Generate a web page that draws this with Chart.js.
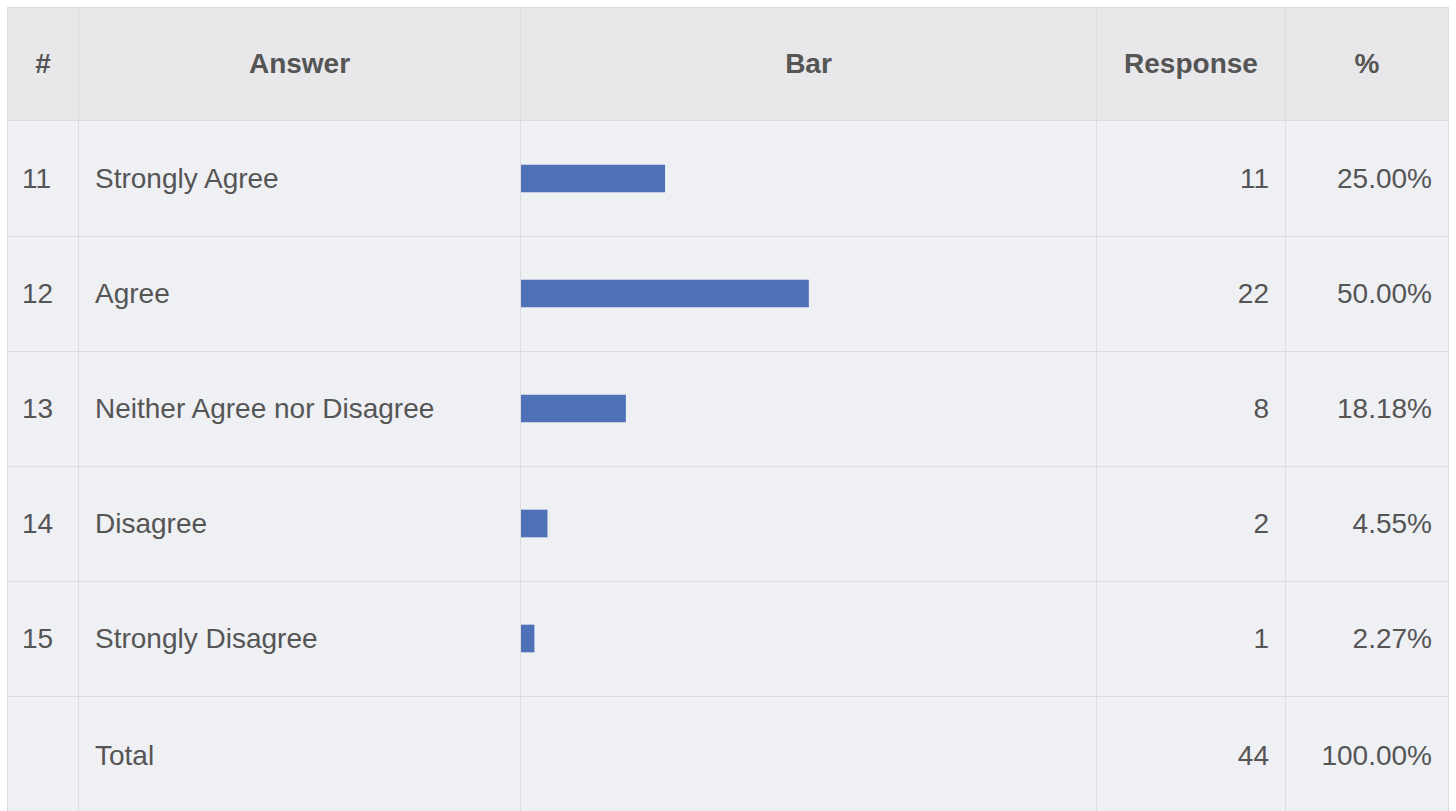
<!DOCTYPE html>
<html>
<head>
<meta charset="utf-8">
<script src="https://cdn.jsdelivr.net/npm/chart.js@4.4.0/dist/chart.umd.min.js"></script>
<style>
    html, body {
        margin: 0;
        padding: 0;
        background: #ffffff;
        overflow: hidden;
        width: 1456px;
        height: 811px;
    }
    #board {
        position: relative;
        width: 1456px;
        height: 811px;
        font-family: "Liberation Sans", Arial, Helvetica, sans-serif;
        color: #555555;
    }
    .cell {
        position: absolute;
        box-sizing: border-box;
        border: 1px solid #dcdcdc;
        background: #eff0f4;
        display: flex;
        align-items: center;
        font-size: 28px;
    }
    .cell.head {
        background: #e8e8ea;
        font-weight: bold;
        justify-content: center;
    }
    .cell.left { justify-content: flex-start; padding-left: 16px; }
    .cell.num { justify-content: flex-start; padding-left: 14px; }
    .cell.right { justify-content: flex-end; padding-right: 16px; }
    #barWrap {
        position: absolute;
        left: 521px;
        top: 121px;
        width: 575px;
        height: 575px;
        z-index: 2;
    }
</style>
</head>
<body>
<div id="board">
    <div id="barWrap"><canvas id="barChart" width="575" height="575"></canvas></div>
</div>
<script>
const headers = ['#', 'Answer', 'Bar', 'Response', '%'];
const answerIds = ['11', '12', '13', '14', '15'];
const answers = ['Strongly Agree', 'Agree', 'Neither Agree nor Disagree', 'Disagree', 'Strongly Disagree'];
const responses = [11, 22, 8, 2, 1];
const percents = ['25.00%', '50.00%', '18.18%', '4.55%', '2.27%'];
const totalLabel = 'Total';
const totalResponses = 44;
const totalPercent = '100.00%';

const colEdges = [7, 78, 520, 1096, 1285, 1448];
const rowEdges = [7, 120, 236, 351, 466, 581, 696, 815];

const board = document.getElementById('board');

function addCell(col, row, text, cls) {
    const div = document.createElement('div');
    div.className = 'cell ' + cls;
    div.style.left = colEdges[col] + 'px';
    div.style.top = rowEdges[row] + 'px';
    div.style.width = (colEdges[col + 1] - colEdges[col] + 1) + 'px';
    div.style.height = (rowEdges[row + 1] - rowEdges[row] + 1) + 'px';
    div.textContent = text;
    board.appendChild(div);
}

headers.forEach((h, c) => addCell(c, 0, h, 'head'));

answers.forEach((answer, i) => {
    addCell(0, i + 1, answerIds[i], 'num');
    addCell(1, i + 1, answer, 'left');
    addCell(2, i + 1, '', 'left');
    addCell(3, i + 1, String(responses[i]), 'right');
    addCell(4, i + 1, percents[i], 'right');
});

const totalRow = answers.length + 1;
addCell(0, totalRow, '', 'num');
addCell(1, totalRow, totalLabel, 'left');
addCell(2, totalRow, '', 'left');
addCell(3, totalRow, String(totalResponses), 'right');
addCell(4, totalRow, totalPercent, 'right');

const ctx = document.getElementById('barChart').getContext('2d');
new Chart(ctx, {
    type: 'bar',
    data: {
        labels: answers,
        datasets: [{
            data: responses,
            backgroundColor: '#4e71b8',
            borderWidth: 0,
            barThickness: 27
        }]
    },
    options: {
        indexAxis: 'y',
        responsive: false,
        maintainAspectRatio: false,
        animation: false,
        layout: { padding: 0 },
        plugins: {
            legend: { display: false },
            tooltip: { enabled: false }
        },
        scales: {
            x: { display: false, min: 0, max: totalResponses },
            y: { display: false }
        }
    }
});
</script>
</body>
</html>
